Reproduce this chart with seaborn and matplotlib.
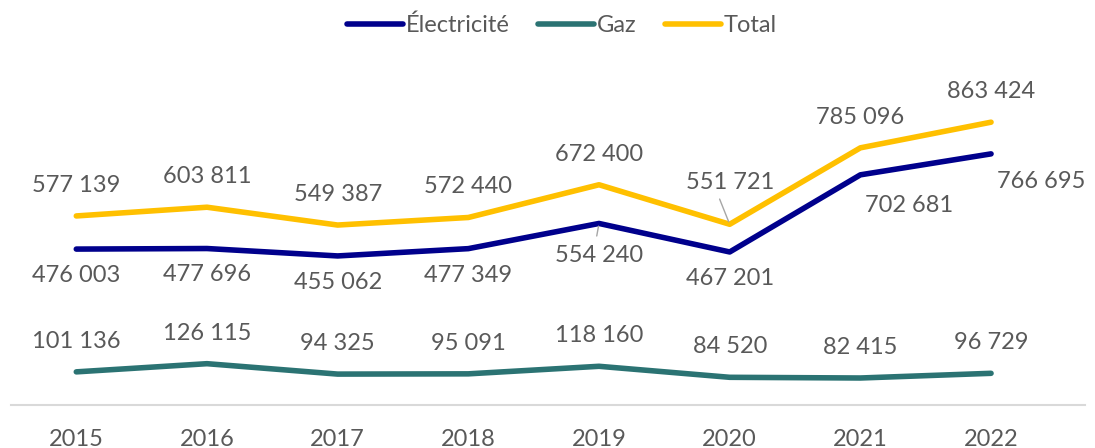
import numpy as np
import pandas as pd
import matplotlib.pyplot as plt
import seaborn as sns

years = ["2015", "2016", "2017", "2018", "2019", "2020", "2021", "2022"]
electricite = [476003, 477696, 455062, 477349, 554240, 467201, 702681, 766695]
gaz = [101136, 126115, 94325, 95091, 118160, 84520, 82415, 96729]
total = [577139, 603811, 549387, 572440, 672400, 551721, 785096, 863424]

series = {"Électricité": electricite, "Gaz": gaz, "Total": total}
colors = {"Électricité": "#00008C", "Gaz": "#2B7373", "Total": "#FFC000"}

df = pd.DataFrame({
    "year": years * 3,
    "x": list(range(len(years))) * 3,
    "value": electricite + gaz + total,
    "serie": ["Électricité"] * 8 + ["Gaz"] * 8 + ["Total"] * 8,
})

sns.set_style("white")
plt.rcParams['font.family'] = ['Lato', 'DejaVu Sans']
text_col = "#595959"

fig = plt.figure(figsize=(10.95, 4.48), dpi=100)
ax = fig.add_axes([0.01, 0.096, 0.981, 0.7165])

sns.lineplot(data=df, x="x", y="value", hue="serie", palette=colors,
             linewidth=4, ax=ax, legend=False)

def fmt(v):
    return f"{v:,}".replace(",", " ")

# label offsets (points)
off = {
    "Total": [(0, 22)] * 8,
    "Gaz": [(0, 22)] * 8,
    "Électricité": [(0, -19)] * 8,
}
off["Électricité"][6] = (35, -22)
off["Électricité"][7] = (36, -20)
off["Électricité"][4] = (0, -23)
off["Total"][5] = (0, 30)

for name, vals in series.items():
    for i, v in enumerate(vals):
        dx, dy = off[name][i]
        ax.annotate(fmt(v), (i, v), xytext=(dx, dy), textcoords="offset points",
                    ha="center", va="center", fontsize=17, color=text_col)

# leader lines
ax.annotate("", (5, total[5]), xytext=(-8, 20), textcoords="offset points",
            arrowprops=dict(arrowstyle="-", color="#A6A6A6", lw=1))
ax.annotate("", (4, electricite[4]), xytext=(-2, -11), textcoords="offset points",
            arrowprops=dict(arrowstyle="-", color="#A6A6A6", lw=1))

ax.set_xlim(-0.5, 7.72)
ax.set_ylim(0, 980000)
ax.set_xticks(range(len(years)))
ax.set_xticklabels(years)
ax.set_yticks([])
ax.set_xlabel("")
ax.set_ylabel("")
ax.tick_params(axis="x", length=0, labelsize=17, labelcolor=text_col, pad=17)
for s in ["top", "right", "left"]:
    ax.spines[s].set_visible(False)
ax.spines["bottom"].set_color("#D9D9D9")
ax.spines["bottom"].set_linewidth(1.5)

handles = [plt.Line2D([0], [0], color=colors[n], lw=4, solid_capstyle="round") for n in series]
fig.legend(handles, list(series.keys()), loc="upper center", bbox_to_anchor=(0.513, 1.015),
           ncol=3, frameon=False, fontsize=17, handlelength=2.4, handletextpad=0.1,
           columnspacing=1.2, labelcolor=text_col)

fig.savefig("out.png", dpi=100)
